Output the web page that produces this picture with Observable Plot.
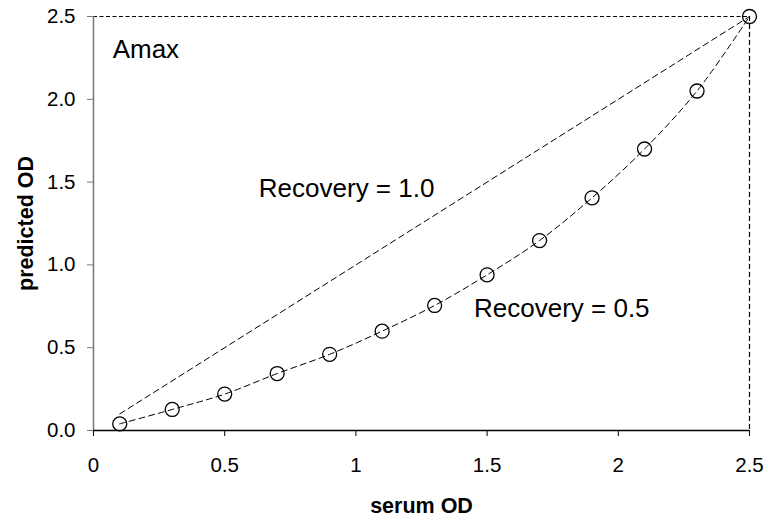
<!DOCTYPE html>
<html><head><meta charset="utf-8">
<script src="https://cdn.jsdelivr.net/npm/d3@7"></script>
<script src="https://cdn.jsdelivr.net/npm/@observablehq/plot@0.6"></script>
<style>
body{margin:0;background:#fff}
#chart svg [aria-label="y-axis label"], #chart svg [aria-label="x-axis label"]{font-weight:bold;font-size:21.5px}
</style>
</head><body><div id="chart"></div>
<script>
const serumOD = [0.1, 0.3, 0.5, 0.7, 0.9, 1.1, 1.3, 1.5, 1.7, 1.9, 2.1, 2.3, 2.5];
const predictedOD = [0.04, 0.127, 0.22, 0.344, 0.46, 0.60, 0.755, 0.94, 1.147, 1.405, 1.70, 2.05, 2.5];
const recovery1X = [0.1, 2.5];
const recovery1Y = [0.1, 2.5];
const xTicks = [0, 0.5, 1, 1.5, 2, 2.5];
const yTicks = [0, 0.5, 1.0, 1.5, 2.0, 2.5];
const xDomain = [0, 2.5];
const yDomain = [0, 2.5];
const labelTexts = ["Amax", "Recovery = 1.0", "Recovery = 0.5"];
const labelX = [0.073, 0.63, 1.45];
const labelY = [2.30, 1.458, 0.737];
const xTitle = "serum OD";
const yTitle = "predicted OD";

const curve05 = serumOD.map((x, i) => ({x, y: predictedOD[i]}));
const curve10 = recovery1X.map((x, i) => ({x, y: recovery1Y[i]}));
const notes = labelTexts.map((t, i) => ({t, x: labelX[i], y: labelY[i]}));

const chart = Plot.plot({
  width: 768,
  height: 520,
  marginLeft: 93,
  marginRight: 19,
  marginTop: 16,
  marginBottom: 90,
  style: {fontFamily: "'Liberation Sans', Arial, sans-serif", fontSize: "20.5px", background: "#fff", color: "#000"},
  x: {domain: xDomain},
  y: {domain: yDomain},
  marks: [
    Plot.ruleY([yDomain[1]], {stroke: "#000", strokeWidth: 1, strokeDasharray: "4,2.5"}),
    Plot.ruleX([xDomain[1]], {stroke: "#000", strokeWidth: 1.2, strokeDasharray: "5,3"}),
    Plot.line(curve10, {x: "x", y: "y", stroke: "#000", strokeWidth: 1, strokeDasharray: "6,4"}),
    Plot.line(curve05, {x: "x", y: "y", stroke: "#000", strokeWidth: 1, strokeDasharray: "6,4", curve: "catmull-rom"}),
    Plot.dot(curve05, {x: "x", y: "y", r: 7, stroke: "#000", strokeWidth: 1.3, fill: "none"}),
    Plot.text(notes, {x: "x", y: "y", text: "t", textAnchor: "start", fontSize: 26, fill: "#000"}),
    Plot.axisX({ticks: xTicks, tickSize: 6, tickPadding: 21, tickFormat: d => String(d), label: xTitle, labelAnchor: "center", labelOffset: 82, labelArrow: "none", stroke: "#000"}),
    Plot.axisY({ticks: yTicks, tickSize: 6, tickPadding: 12, tickFormat: d3.format(".1f"), label: yTitle, labelAnchor: "center", labelOffset: 76, labelArrow: "none", stroke: "#777"}),
    Plot.ruleX([xDomain[0]], {stroke: "#777", strokeWidth: 1.5}),
    Plot.ruleY([yDomain[0]], {stroke: "#000", strokeWidth: 1.3})
  ]
});
document.getElementById("chart").appendChild(chart);
</script>
</body></html>
